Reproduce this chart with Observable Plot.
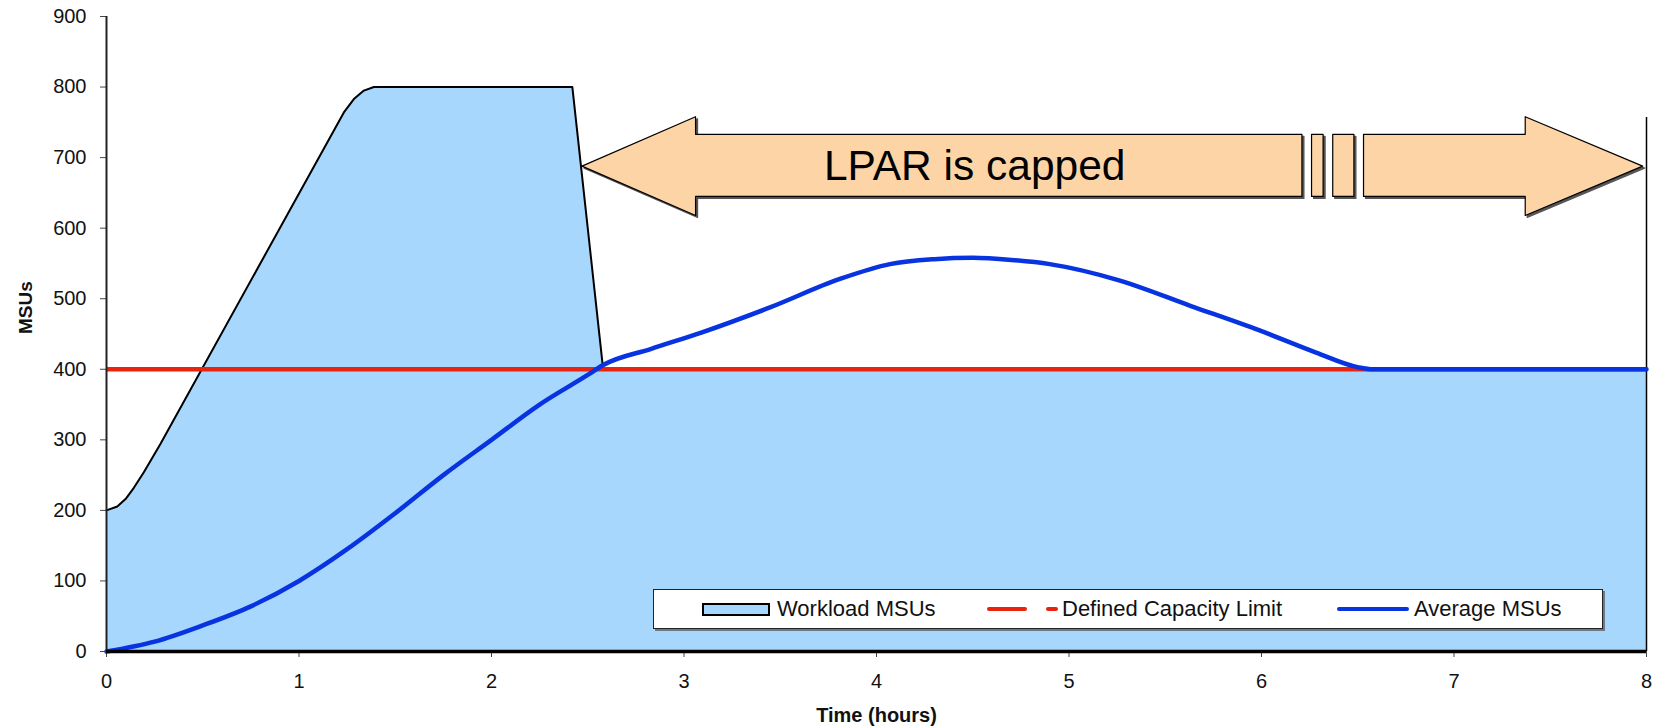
<!DOCTYPE html>
<html>
<head>
<meta charset="utf-8">
<script src="https://cdn.jsdelivr.net/npm/d3@7"></script>
<script src="https://cdn.jsdelivr.net/npm/@observablehq/plot@0.6"></script>
<style>
  html, body { margin: 0; padding: 0; background: #fff; }
  #wrap { position: relative; width: 1654px; height: 728px; font-family: "Liberation Sans", Arial, sans-serif; }
  #legend { position: absolute; left: 653px; top: 589px; width: 948px; height: 38px; background: #fff;
            border: 1.5px solid #222; box-shadow: 2px 2px 0 #6a7a8a; }
  #legend .it { position: absolute; font-size: 22px; line-height: 22px; top: 8px; color: #111; white-space: nowrap; }
  #legend .sw { position: absolute; }
</style>
</head>
<body>
<div id="wrap"></div>
<script>
// ---- data ----
const workloadHours  = [0, 0.056, 0.099, 0.142, 0.194, 0.28, 1.233, 1.285, 1.337, 1.389, 2.42, 2.58, 8];
const workloadValues = [200, 205.5, 216, 232, 254, 294, 764, 783, 795, 800, 800, 400, 400];

const avgHours  = [0, 0.25, 0.5, 0.75, 1, 1.25, 1.5, 1.75, 2, 2.25, 2.5, 2.58, 2.83, 3.09, 3.45, 3.81, 4.07, 4.3, 4.5, 4.7, 4.9, 5.26, 5.63, 5.99, 6.28, 6.5, 6.58, 8];
const avgValues = [0, 14, 37, 64, 100, 145, 196, 250, 300, 350, 392, 406, 429, 452, 488, 528, 549, 556, 558, 555, 549, 526, 490, 455, 424, 403, 400, 400];

const capacityLimit = 400;
const capStart = 0, capEnd = 8;

const xTicks = [0, 1, 2, 3, 4, 5, 6, 7, 8];
const yTicks = [0, 100, 200, 300, 400, 500, 600, 700, 800, 900];

const seriesNames = ["Workload MSUs", "Defined Capacity Limit", "Average MSUs"];

// annotation arrow (data units)
const arrowLeftX  = [2.47, 3.06, 3.06, 6.21, 6.21, 3.06, 3.06, 2.47];
const arrowLeftY  = [688, 758, 733, 733, 645, 645, 618, 688];
const break1X = [6.26, 6.32, 6.32, 6.26, 6.26];
const break1Y = [733, 733, 645, 645, 733];
const break2X = [6.37, 6.48, 6.48, 6.37, 6.37];
const break2Y = [733, 733, 645, 645, 733];
const arrowRightX = [6.53, 7.37, 7.37, 7.98, 7.37, 7.37, 6.53, 6.53];
const arrowRightY = [733, 733, 758, 688, 618, 645, 645, 733];
const arrowLabel = "LPAR is capped";
const arrowLabelX = 4.51, arrowLabelY = 687;
const endMarkerX = 8, endMarkerTop = 757;

// ---- styling ----
const areaFill = "#a7d7fd";
const peach = "#fdd4a5";
const red = "#e8230e";
const blue = "#0733e0";

const workload = workloadHours.map((h, i) => ({h, v: workloadValues[i]}));
const avg = avgHours.map((h, i) => ({h, v: avgValues[i]}));

function arrowPart(xs, ys, opts) {
  return Plot.line(xs.map((x, i) => ({x, y: ys[i]})), {x: "x", y: "y", z: null, curve: "linear", ...opts});
}
const arrowParts = [[arrowLeftX, arrowLeftY], [break1X, break1Y], [break2X, break2Y], [arrowRightX, arrowRightY]];

const chart = Plot.plot({
  width: 1654,
  height: 728,
  marginLeft: 106,
  marginRight: 8,
  marginTop: 16,
  marginBottom: 77,
  x: {domain: [0, 8]},
  y: {domain: [0, 900]},
  style: {fontFamily: "'Liberation Sans', Arial, sans-serif", fontSize: "20px", background: "#fff", color: "#111", overflow: "visible"},
  marks: [
    Plot.areaY(workload, {x: "h", y: "v", fill: areaFill, curve: "linear"}),
    Plot.line(workload, {x: "h", y: "v", stroke: "#000", strokeWidth: 2, curve: "linear", strokeLinejoin: "round"}),
    Plot.ruleX([endMarkerX], {y1: 0, y2: endMarkerTop, stroke: "#000", strokeWidth: 1.5}),
    Plot.ruleY([capacityLimit], {x1: capStart, x2: capEnd, stroke: red, strokeWidth: 4.5}),
    Plot.line(avg, {x: "h", y: "v", stroke: blue, strokeWidth: 4.5, curve: "monotone-x"}),
    ...arrowParts.map(([xs, ys]) => arrowPart(xs, ys, {fill: "#555", stroke: "#555", strokeWidth: 1.2, dx: 2, dy: 2})),
    ...arrowParts.map(([xs, ys]) => arrowPart(xs, ys, {fill: peach, stroke: "#000", strokeWidth: 1.2})),
    Plot.text([arrowLabel], {x: () => arrowLabelX, y: () => arrowLabelY, fontSize: 42.5, fill: "#000", textAnchor: "middle", lineAnchor: "middle"}),
    Plot.axisY({ticks: yTicks, tickSize: 6, tickPadding: 14, label: null, fontSize: 20, stroke: "#444"}),
    Plot.axisX({ticks: xTicks, tickSize: 6, tickPadding: 16, label: null, fontSize: 20, stroke: "#444", tickFormat: d3.format("d")}),
    Plot.ruleX([0], {stroke: "#222", strokeWidth: 2}),
    Plot.ruleY([0], {stroke: "#000", strokeWidth: 3.5}),
    Plot.text(["Time (hours)"], {frameAnchor: "bottom", dy: 64, fontWeight: "bold", fontSize: 20, lineAnchor: "middle", fill: "#111"}),
    Plot.text(["MSUs"], {frameAnchor: "left", dx: -81, rotate: -90, fontWeight: "bold", fontSize: 19, lineAnchor: "middle", fill: "#111"})
  ]
});

const wrap = document.getElementById("wrap");
wrap.appendChild(chart);

// legend
const legend = document.createElement("div");
legend.id = "legend";
legend.innerHTML = `
  <div class="sw" style="left:48px; top:13px; width:64px; height:9px; background:${areaFill}; border:2px solid #000;"></div>
  <div class="it" style="left:123px;">${seriesNames[0]}</div>
  <div class="sw" style="left:333px; top:17px; width:40px; height:4px; background:${red}; border-radius:2px;"></div>
  <div class="sw" style="left:392px; top:17px; width:12px; height:4px; background:${red}; border-radius:2px;"></div>
  <div class="it" style="left:408px;">${seriesNames[1]}</div>
  <div class="sw" style="left:683px; top:16.5px; width:72px; height:4.5px; background:${blue}; border-radius:2px;"></div>
  <div class="it" style="left:760px;">${seriesNames[2]}</div>
`;
wrap.appendChild(legend);
</script>
</body>
</html>
